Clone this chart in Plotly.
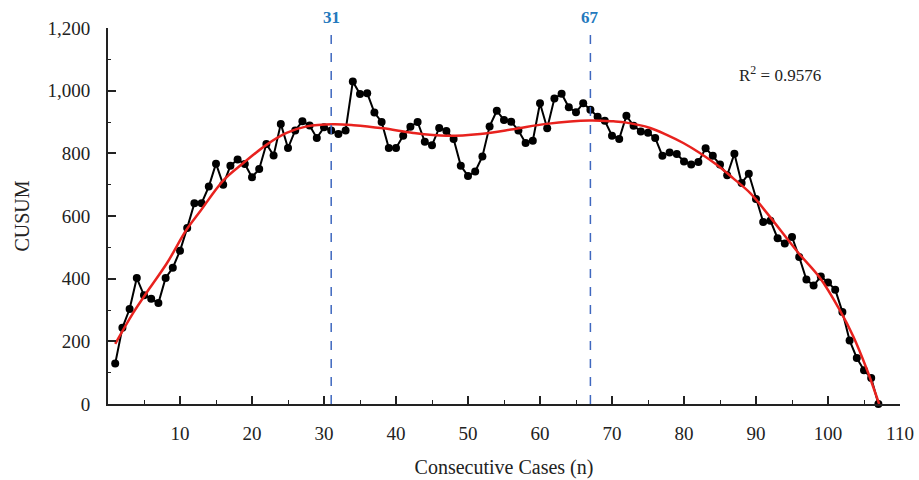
import plotly.graph_objects as go

cases = list(range(1, 108))
cusum = [129, 243, 303, 402, 347, 336, 322, 402, 435, 489,
         562, 641, 641, 694, 767, 700, 760, 780, 766, 724,
         750, 830, 793, 894, 817, 873, 902, 889, 849, 883,
         873, 862, 873, 1029, 989, 992, 930, 900, 817, 817,
         856, 885, 900, 837, 826, 881, 871, 846, 760, 728,
         742, 790, 886, 936, 906, 901, 873, 833, 840, 960,
         880, 975, 990, 947, 931, 960, 939, 917, 904, 856,
         846, 920, 888, 870, 866, 849, 792, 803, 798, 774,
         764, 772, 816, 792, 764, 730, 799, 705, 735, 654,
         581, 585, 529, 512, 533, 469, 397, 378, 407, 388,
         365, 294, 203, 147, 108, 83, 0]

# trend (fitted) curve
trend_x = [1, 3.5, 5.8, 8.2, 10.9, 12.8, 16, 18.8, 22, 24.8, 27.6, 31.3, 34.1,
           38.2, 42.4, 47, 51.7, 56.3, 60.9, 66.9, 70.2, 72, 75.3, 77.6, 79.9,
           82.2, 84.5, 86.8, 89.2, 91.5, 95.9, 98.9, 101.6, 103.5, 105.4, 107.1]
trend_y = [192, 291, 370, 450, 556, 615, 713, 769, 827, 865, 886, 893, 890,
           880, 865, 856, 862, 877, 894, 905, 902, 898, 881, 859, 833,
           801, 764, 721, 673, 610, 482, 402, 301, 216, 110, 0]

cut_points = [31, 67]
cut_labels = ["31", "67"]
r2_text = "R<sup>2</sup> = 0.9576"

font_family = "Liberation Serif, Times New Roman, serif"

fig = go.Figure()
fig.add_trace(go.Scatter(x=cases, y=cusum, mode="lines+markers",
                         line=dict(color="black", width=2),
                         marker=dict(color="black", size=8),
                         showlegend=False, cliponaxis=False))
fig.add_trace(go.Scatter(x=trend_x, y=trend_y, mode="lines",
                         line=dict(color="#E8221E", width=2.5, shape="spline", smoothing=1.0),
                         showlegend=False))

for cp, lab in zip(cut_points, cut_labels):
    fig.add_shape(type="line", x0=cp, x1=cp, xref="x", yref="paper",
                  y0=0, y1=0.989, line=dict(color="#3F68BF", width=1.5, dash="dash"))
    fig.add_annotation(x=cp, y=1.027, xref="x", yref="paper", text="<b>" + lab + "</b>",
                       showarrow=False, xanchor="center", yanchor="middle",
                       font=dict(family=font_family, size=17, color="#2479BD"))

fig.add_annotation(x=0.848, y=0.878, xref="paper", yref="paper", text=r2_text,
                   showarrow=False, xanchor="center", yanchor="middle",
                   font=dict(family=font_family, size=17, color="#222"))

fig.update_layout(
    width=919, height=480,
    margin=dict(l=108, r=19, t=28, b=76),
    plot_bgcolor="white", paper_bgcolor="white",
    font=dict(family=font_family, size=19, color="#222"),
    xaxis=dict(range=[0, 110], tickvals=list(range(10, 111, 10)),
               showgrid=False, zeroline=False, showline=True, automargin=False,
               linecolor="#222", linewidth=2, ticks="inside", ticklen=8,
               tickcolor="#222", tickwidth=1.5, ticklabelstandoff=11,
               minor=dict(tickvals=list(range(5, 111, 10)), ticks="inside",
                          ticklen=4, tickcolor="#222", tickwidth=1),
               title=dict(text="Consecutive Cases (n)", standoff=17,
                          font=dict(size=20))),
    yaxis=dict(range=[0, 1200], tickvals=list(range(0, 1201, 200)),
               tickformat=",", showgrid=False, zeroline=False, showline=True,
               automargin=False,
               linecolor="#222", linewidth=2, ticks="inside", ticklen=8,
               tickcolor="#222", tickwidth=1.5, ticklabelstandoff=12,
               minor=dict(tickvals=list(range(100, 1200, 200)), ticks="inside",
                          ticklen=3, tickcolor="#222", tickwidth=1),
               title=dict(text="CUSUM", standoff=12, font=dict(size=20))),
)

fig.write_html("out.html")
